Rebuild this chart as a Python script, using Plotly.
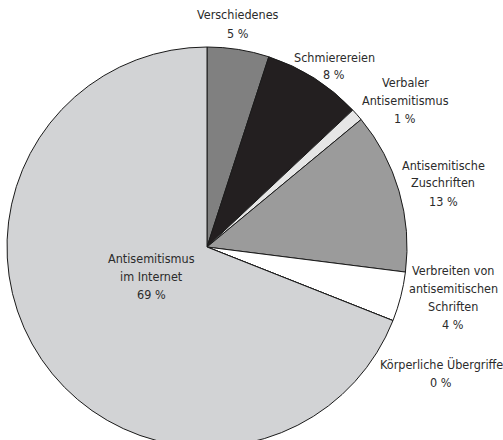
import plotly.graph_objects as go

# Kategorien (im Uhrzeigersinn ab 12 Uhr)
labels = [
    "Verschiedenes",
    "Schmierereien",
    "Verbaler<br>Antisemitismus",
    "Antisemitische<br>Zuschriften",
    "Verbreiten von<br>antisemitischen<br>Schriften",
    "Körperliche Übergriffe",
    "Antisemitismus<br>im Internet",
]
values = [5, 8, 1, 13, 4, 0, 69]
colors = ["#808080", "#231f20", "#e6e6e6", "#9b9b9b", "#ffffff", "#ffffff", "#d2d3d5"]

# Beschriftungen: Mitte x, erste Zeile y (Pixel von oben)
label_pos = [(238, 15), (334, 57), (405, 82), (443, 165), (453, 270), (441, 364), (151, 258)]
LINE_H = 18

W, H = 503, 447
FONT = "DejaVu Sans Condensed, sans-serif"

fig = go.Figure()
fig.add_trace(go.Pie(
    labels=labels,
    values=values,
    sort=False,
    direction="clockwise",
    rotation=0,
    marker=dict(colors=colors, line=dict(color="#1a1a1a", width=1)),
    textinfo="none",
    hoverinfo="label+percent",
    showlegend=False,
    domain=dict(x=[7 / W, 407 / W], y=[0, 400 / H]),
))

for lab, val, (px_, py_) in zip(labels, values, label_pos):
    lines = lab.split("<br>") + [f"{val} %"]
    for i, line in enumerate(lines):
        fig.add_annotation(
            x=px_ / W, y=1 - (py_ + i * LINE_H) / H, xref="paper", yref="paper",
            text=line, showarrow=False,
            xanchor="center", yanchor="middle",
            font=dict(family=FONT, size=12.5, color="#2b2b2b"),
        )

fig.update_layout(
    width=W, height=H,
    margin=dict(l=0, r=0, t=0, b=0),
    paper_bgcolor="white",
    plot_bgcolor="white",
    font=dict(family=FONT),
)

fig.write_html(
    "out.html",
    config={"displayModeBar": False},
    post_script="document.body.style.margin='0';document.body.style.overflow='hidden';",
)
